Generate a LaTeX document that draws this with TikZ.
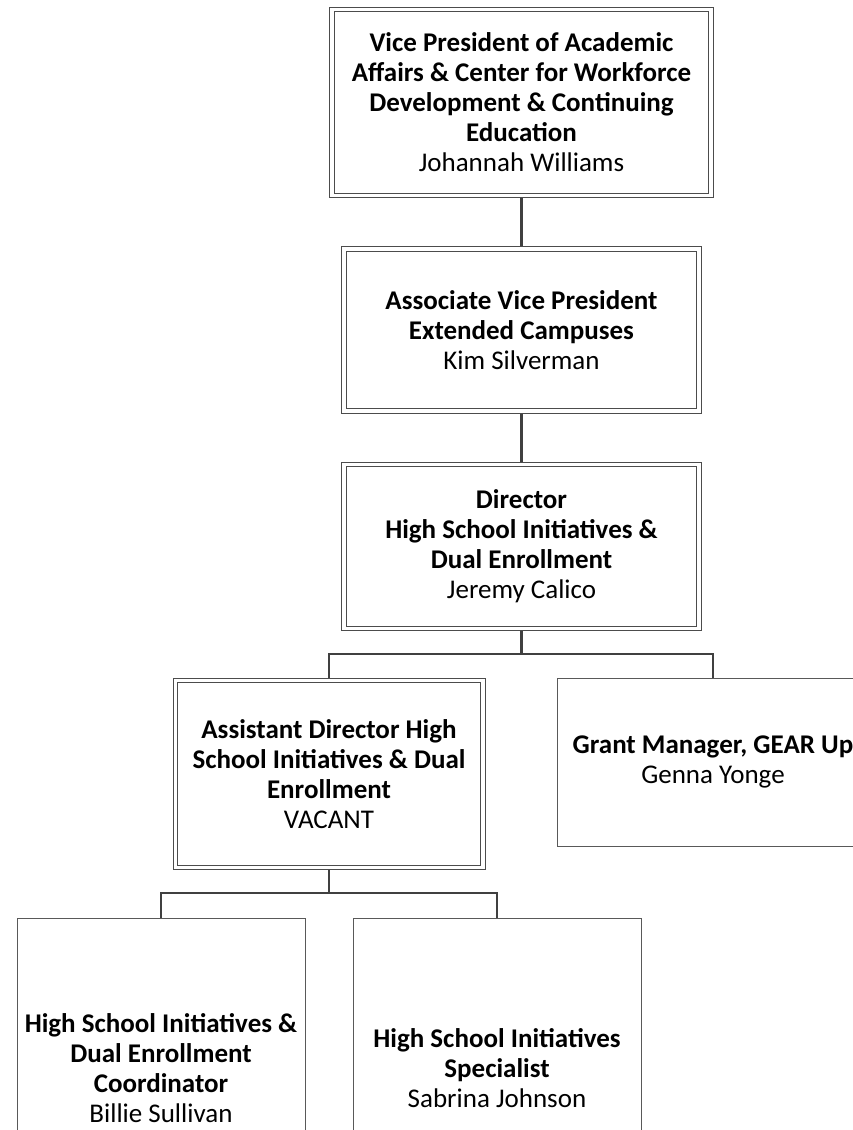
\documentclass[tikz,border=0pt]{standalone}
\usepackage{fontspec}
\setmainfont{Carlito}
\begin{document}
\begin{tikzpicture}[x=1pt, y=-1pt,
        dbox/.style={draw=black!70, line width=1pt, double=white, double distance=3.5pt, align=center, font=\fontsize{27}{30}\selectfont, inner sep=0pt},
        sbox/.style={draw=black!65, line width=1pt, fill=white, align=center, font=\fontsize{27}{30}\selectfont, inner sep=0pt},
        link/.style={draw=black!75, line width=2.8pt}
    ]
    \useasboundingbox (0,0) rectangle (853,1130);
    \fill[white] (0,0) rectangle (853,1130);

    \node (vp) [dbox, minimum width=379pt, minimum height=186pt] at (521.5,102.5) {\textbf{Vice President of Academic}\\\textbf{Affairs \& Center for Workforce}\\\textbf{Development \& Continuing}\\\textbf{Education}\\Johannah Williams};
    \node (avp) [dbox, minimum width=355pt, minimum height=162pt] at (521.5,330) {\textbf{Associate Vice President}\\\textbf{Extended Campuses}\\Kim Silverman};
    \node (dir) [dbox, minimum width=355pt, minimum height=164pt] at (521.5,546.5) {\textbf{Director}\\\textbf{High School Initiatives \&}\\\textbf{Dual Enrollment}\\Jeremy Calico};
    \node (asst) [dbox, minimum width=307.5pt, minimum height=187pt] at (329,774) {\textbf{Assistant Director High}\\\textbf{School Initiatives \& Dual}\\\textbf{Enrollment}\\VACANT};
    \node (grant) [sbox, minimum width=312pt, minimum height=168pt] at (713,762) {\textbf{Grant Manager, GEAR Up}\\Genna Yonge};
    \node (coord) [sbox, minimum width=288pt, minimum height=300pt] at (161,1068) {\textbf{High School Initiatives \&}\\\textbf{Dual Enrollment}\\\textbf{Coordinator}\\Billie Sullivan};
    \node (spec) [sbox, minimum width=288pt, minimum height=300pt] at (497,1068) {\textbf{High School Initiatives}\\\textbf{Specialist}\\Sabrina Johnson};

    \coordinate (bartop) at (521.5,654);
    \coordinate (barlow) at (329,893);

    \draw [link, shorten <=2.25pt, shorten >=2.25pt] (vp) -- (avp);
    \draw [link, shorten <=2.25pt, shorten >=2.25pt] (avp) -- (dir);
    \draw [link, shorten <=2.25pt] (dir) -- (bartop);
    \draw [link, shorten <=2.25pt] (asst.north) |- (bartop) -| (grant.north);
    \draw [link, shorten <=2.25pt] (asst) -- (barlow);
    \draw [link] (coord.north) |- (barlow) -| (spec.north);
\end{tikzpicture}
\end{document}
